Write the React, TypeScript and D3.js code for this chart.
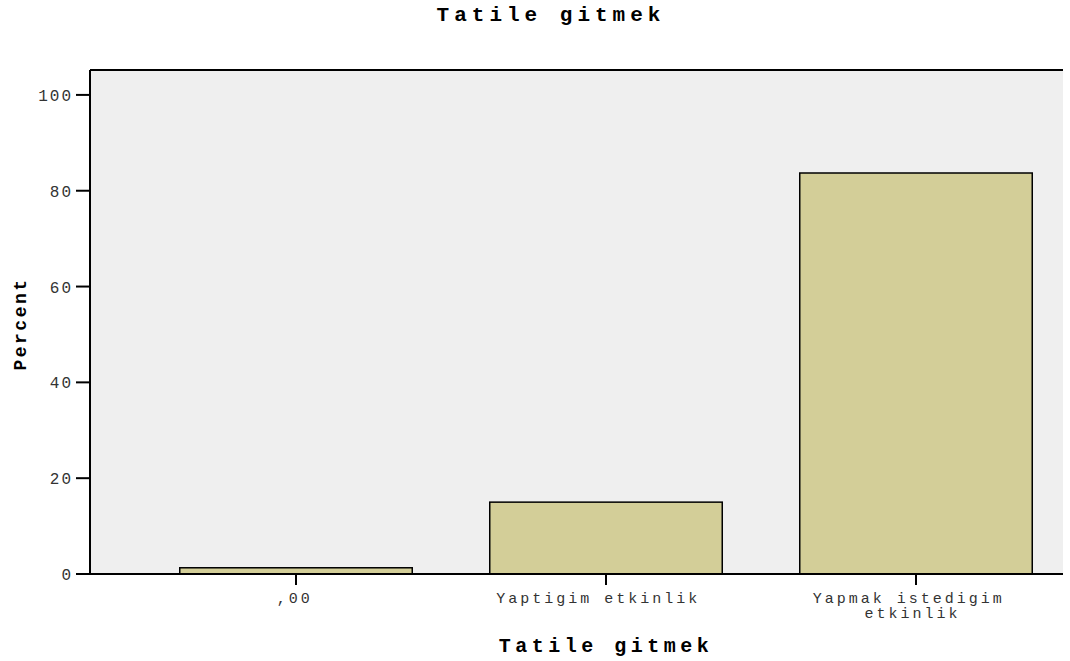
import React from "react";
import * as d3 from "d3";

const categories: string[][] = [[",00"], ["Yaptigim etkinlik"], ["Yapmak istedigim", "etkinlik"]];
const categoryKeys = [",00", "Yaptigim etkinlik", "Yapmak istedigim etkinlik"];
const percents = [1.3, 15.0, 83.7];
const yTicks = [0, 20, 40, 60, 80, 100];
const title = "Tatile gitmek";
const xTitle = "Tatile gitmek";
const yTitle = "Percent";

const W = 1070;
const H = 661;

export default function App() {
  const x = d3.scaleBand<string>().domain(categoryKeys).range([141, 1071]).paddingInner(0.25).paddingOuter(0.125);
  const y = d3.scaleLinear().domain([0, 105.2]).range([574, 70]);
  const left = 90;
  const right = 1063;
  const mono = "'Liberation Mono', 'Courier New', monospace";
  return (
    <svg width={W} height={H} style={{ position: "absolute", left: 0, top: 0, background: "#fff" }}>
      <rect x={left} y={y(105.2)} width={right - left} height={y(0) - y(105.2)} fill="#efefef" />
      {percents.map((v, i) => (
        <rect
          key={i}
          x={x(categoryKeys[i])!}
          y={y(v)}
          width={x.bandwidth()}
          height={y(0) - y(v)}
          fill="#d3ce98"
          stroke="#000"
          strokeWidth={1.5}
        />
      ))}
      <line x1={left} x2={right} y1={70} y2={70} stroke="#000" strokeWidth={2} />
      <line x1={left} x2={left} y1={70} y2={575} stroke="#000" strokeWidth={2} />
      <line x1={left} x2={right} y1={y(0)} y2={y(0)} stroke="#000" strokeWidth={2} />
      {yTicks.map((t) => (
        <g key={t}>
          <line x1={76} x2={left} y1={y(t)} y2={y(t)} stroke="#000" strokeWidth={2} />
          <text x={73} y={y(t)} dy="0.38em" textAnchor="end" fontFamily={mono} fontSize={16} letterSpacing={2} fill="#333">
            {t}
          </text>
        </g>
      ))}
      {categoryKeys.map((c, i) => {
        const cx = x(c)! + x.bandwidth() / 2;
        return (
          <g key={c}>
            <line x1={cx} x2={cx} y1={y(0)} y2={y(0) + 11} stroke="#000" strokeWidth={2} />
            {categories[i].map((line, j) => (
              <text
                key={j}
                x={cx - line.length * 0.45}
                y={603 + j * 15}
                textAnchor="middle"
                fontFamily={mono}
                fontSize={15}
                letterSpacing={3}
                fill="#333"
              >
                {line}
              </text>
            ))}
          </g>
        );
      })}
      <text x={551} y={21} textAnchor="middle" fontFamily={mono} fontWeight="bold" fontSize={21} letterSpacing={5} fill="#000">
        {title}
      </text>
      <text x={606} y={652} textAnchor="middle" fontFamily={mono} fontWeight="bold" fontSize={20} letterSpacing={4.5} fill="#000">
        {xTitle}
      </text>
      <text
        transform={`translate(26,${324}) rotate(-90)`}
        textAnchor="middle"
        fontFamily={mono}
        fontWeight="bold"
        fontSize={18}
        letterSpacing={2.5}
        fill="#000"
      >
        {yTitle}
      </text>
    </svg>
  );
}
